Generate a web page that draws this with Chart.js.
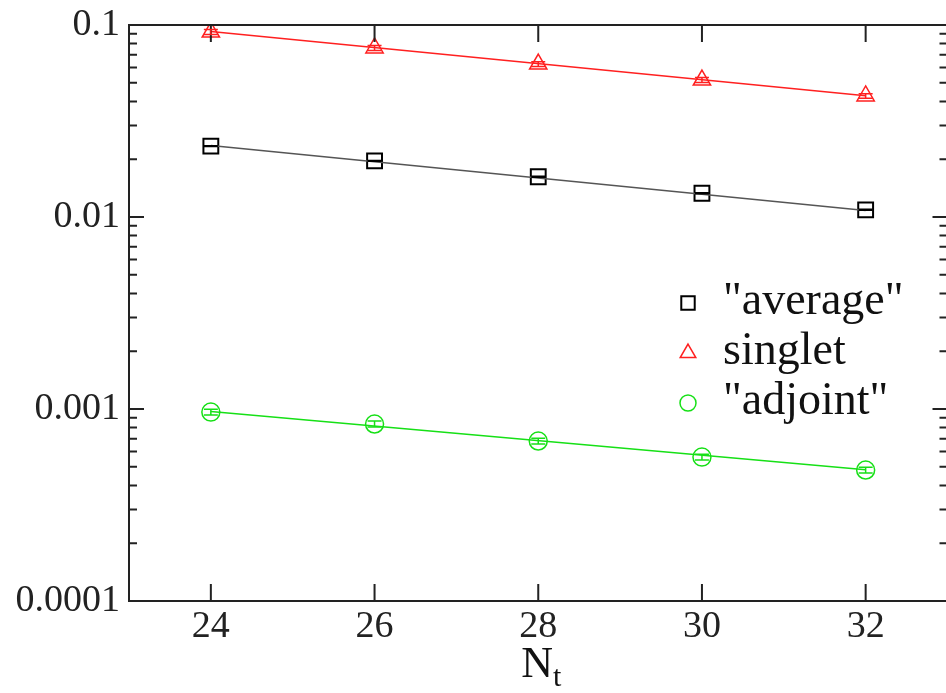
<!DOCTYPE html>
<html>
<head>
<meta charset="utf-8">
<script src="https://cdn.jsdelivr.net/npm/chart.js@4/dist/chart.umd.min.js"></script>
<style>
  html, body { margin: 0; padding: 0; background: #fff; overflow: hidden; }
  #wrap { width: 946px; height: 693px; overflow: hidden; }
</style>
</head>
<body>
<div id="wrap"><canvas id="chart" width="960" height="693"></canvas></div>
<script>
// ===== DATA =====
const nValues = [24, 26, 28, 30, 32];          // N_t
const xTicks = [24, 26, 28, 30, 32];
const yTicks = [0.0001, 0.001, 0.01, 0.1];
const yTickLabels = ['0.0001', '0.001', '0.01', '0.1'];

const averageVals = [0.0234, 0.0196, 0.0162, 0.0133, 0.0109];
const averageErr  = [0.0001, 0.0001, 0.00008, 0.00007, 0.00006];
const singletVals = [0.0919, 0.0759, 0.0626, 0.0517, 0.0427];
const singletErr  = [0.0028, 0.0022, 0.0018, 0.0015, 0.0012];
const adjointVals = [0.000964, 0.000835, 0.000681, 0.000562, 0.000481];
const adjointErr  = [0.000034, 0.00003, 0.000024, 0.00002, 0.000017];

// fit lines (end points)
const fitN = [24, 32];
const averageFit = [0.0236, 0.0108];
const singletFit = [0.0925, 0.0428];
const adjointFit = [0.00097, 0.000482];

const RED = '#ff2020';
const GREEN = '#16e016';
const BLACK = '#000000';
const SERIF = '"Liberation Serif", "Times New Roman", serif';

function pts(xs, ys) {
  return xs.map(function(x, i) { return { x: x, y: ys[i] }; });
}

// ===== PLUGINS =====
// frame + inward ticks on all four sides
const framePlugin = {
  id: 'frame',
  afterDatasetsDraw(chart) {
    const ctx = chart.ctx;
    const a = chart.chartArea;
    const xs = chart.scales.x;
    const ys = chart.scales.y;
    ctx.save();
    ctx.strokeStyle = '#222';
    ctx.lineWidth = 2;
    ctx.strokeRect(a.left, a.top, a.right - a.left, a.bottom - a.top);
    ctx.beginPath();
    xTicks.forEach(function(v) {
      const px = xs.getPixelForValue(v);
      ctx.moveTo(px, a.bottom); ctx.lineTo(px, a.bottom - 17);
      ctx.moveTo(px, a.top); ctx.lineTo(px, a.top + 17);
    });
    yTicks.forEach(function(v) {
      const py = ys.getPixelForValue(v);
      ctx.moveTo(a.left, py); ctx.lineTo(a.left + 15, py);
      ctx.moveTo(a.right, py); ctx.lineTo(a.right - 15, py);
    });
    // minor ticks 2..9 in each decade
    for (let d = 0; d < yTicks.length - 1; d++) {
      for (let m = 2; m <= 9; m++) {
        const py = ys.getPixelForValue(m * yTicks[d]);
        ctx.moveTo(a.left, py); ctx.lineTo(a.left + 8, py);
        ctx.moveTo(a.right, py); ctx.lineTo(a.right - 8, py);
      }
    }
    ctx.stroke();
    ctx.restore();
  }
};

// vertical error bars with caps
const errorPlugin = {
  id: 'errors',
  afterDatasetsDraw(chart) {
    const ctx = chart.ctx;
    const xs = chart.scales.x;
    const ys = chart.scales.y;
    ctx.save();
    chart.data.datasets.forEach(function(ds) {
      if (!ds.errors) return;
      ctx.strokeStyle = ds.borderColor;
      ctx.lineWidth = 1.5;
      ds.data.forEach(function(p, i) {
        const e = ds.errors[i];
        const px = xs.getPixelForValue(p.x);
        const y1 = ys.getPixelForValue(p.y - e);
        const y2 = ys.getPixelForValue(p.y + e);
        ctx.beginPath();
        ctx.moveTo(px, y1); ctx.lineTo(px, y2);
        ctx.moveTo(px - 7, y1); ctx.lineTo(px + 7, y1);
        ctx.moveTo(px - 7, y2); ctx.lineTo(px + 7, y2);
        ctx.stroke();
      });
    });
    ctx.restore();
  }
};

// legend inside the plot + x axis title with subscript
const labelPlugin = {
  id: 'labels',
  afterDraw(chart) {
    const ctx = chart.ctx;
    const a = chart.chartArea;
    ctx.save();
    let row = 0;
    chart.data.datasets.forEach(function(ds) {
      if (!ds.legendText) return;
      const sx = 688;
      const sy = 303 + row * 50;
      ctx.strokeStyle = ds.borderColor;
      ctx.fillStyle = 'rgba(0,0,0,0)';
      ctx.lineWidth = ds.pointBorderWidth;
      Chart.helpers.drawPoint(ctx, {
        pointStyle: ds.pointStyle, radius: ds.pointRadius - 1, rotation: 0,
        borderWidth: ds.pointBorderWidth
      }, sx, sy);
      ctx.fillStyle = '#111';
      ctx.font = '46px ' + SERIF;
      ctx.textAlign = 'left';
      ctx.textBaseline = 'alphabetic';
      ctx.fillText(ds.legendText, 723, sy + 11);
      row++;
    });
    // N_t
    const cx = (a.left + a.right) / 2;
    ctx.fillStyle = '#111';
    ctx.textBaseline = 'alphabetic';
    ctx.font = '44px ' + SERIF;
    const nW = ctx.measureText('N').width;
    ctx.font = '30px ' + SERIF;
    const tW = ctx.measureText('t').width;
    const x0 = cx - (nW + tW) / 2;
    ctx.font = '44px ' + SERIF;
    ctx.textAlign = 'left';
    ctx.fillText('N', x0 + 3, 677);
    ctx.font = '30px ' + SERIF;
    ctx.fillText('t', x0 + 3 + nW, 686);
    ctx.restore();
  }
};

// ===== CHART =====
const ctx = document.getElementById('chart').getContext('2d');
new Chart(ctx, {
  type: 'scatter',
  data: {
    datasets: [
      { data: pts(fitN, singletFit), showLine: true, borderColor: RED, borderWidth: 1.5, pointRadius: 0 },
      { data: pts(fitN, averageFit), showLine: true, borderColor: '#555', borderWidth: 1.5, pointRadius: 0 },
      { data: pts(fitN, adjointFit), showLine: true, borderColor: GREEN, borderWidth: 1.5, pointRadius: 0 },
      {
        legendText: '"average"', data: pts(nValues, averageVals), errors: averageErr,
        borderColor: BLACK, backgroundColor: 'rgba(0,0,0,0)',
        pointStyle: 'rect', pointRadius: 10.5, pointBorderWidth: 2
      },
      {
        legendText: 'singlet', data: pts(nValues, singletVals), errors: singletErr,
        borderColor: RED, backgroundColor: 'rgba(0,0,0,0)',
        pointStyle: 'triangle', pointRadius: 10, pointBorderWidth: 1.5
      },
      {
        legendText: '"adjoint"', data: pts(nValues, adjointVals), errors: adjointErr,
        borderColor: GREEN, backgroundColor: 'rgba(0,0,0,0)',
        pointStyle: 'circle', pointRadius: 9, pointBorderWidth: 1.5
      }
    ]
  },
  options: {
    responsive: false,
    devicePixelRatio: 1,
    animation: false,
    layout: { padding: { top: 25, right: 10, left: 0, bottom: 0 } },
    plugins: { legend: { display: false }, tooltip: { enabled: false } },
    scales: {
      x: {
        type: 'linear', min: 23, max: 33,
        grid: { display: false, drawTicks: false },
        border: { display: false },
        afterBuildTicks: function(scale) {
          scale.ticks = xTicks.map(function(v) { return { value: v }; });
        },
        afterFit: function(scale) {
          scale.height = 92;
          scale.paddingLeft = 0; scale.paddingRight = 0;
        },
        ticks: { color: '#222', padding: 3, maxRotation: 0, font: { family: SERIF, size: 38 } }
      },
      y: {
        type: 'logarithmic', min: 0.0001, max: 0.1,
        grid: { display: false, drawTicks: false },
        border: { display: false },
        afterBuildTicks: function(scale) {
          scale.ticks = yTicks.map(function(v) { return { value: v }; });
        },
        afterFit: function(scale) {
          scale.width = 129;
          scale.paddingTop = 0; scale.paddingBottom = 0;
        },
        ticks: {
          color: '#222', padding: 9, font: { family: SERIF, size: 38 },
          callback: function(v) { return yTickLabels[yTicks.indexOf(v)]; }
        }
      }
    }
  },
  plugins: [framePlugin, errorPlugin, labelPlugin]
});
</script>
</body>
</html>
